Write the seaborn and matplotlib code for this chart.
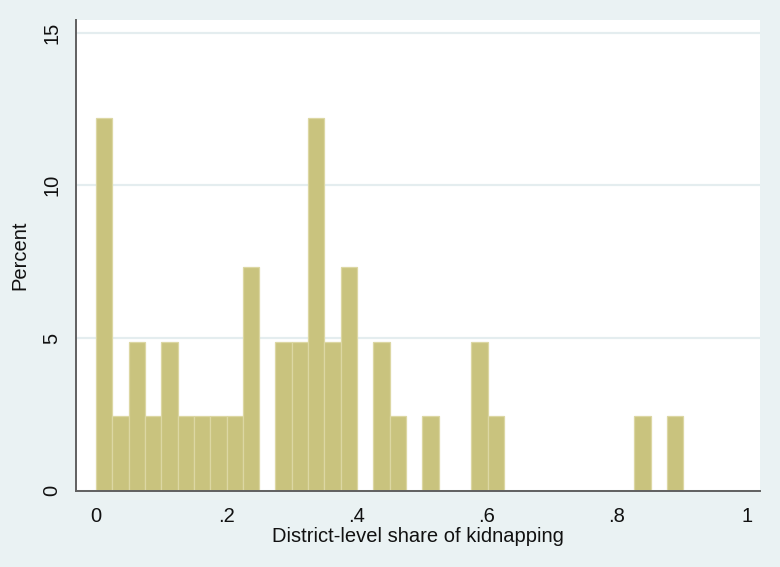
import numpy as np
import pandas as pd
import matplotlib
matplotlib.use("Agg")
import matplotlib.pyplot as plt
import seaborn as sns

# Histogram of district-level share of kidnapping (41 districts)
bin_edges = np.linspace(0, 0.9022, 37)
percent = [12.2, 2.44, 4.88, 2.44, 4.88, 2.44, 2.44, 2.44, 2.44, 7.32,
           0, 4.88, 4.88, 12.2, 4.88, 7.32, 0, 4.88, 2.44, 0,
           2.44, 0, 0, 4.88, 2.44, 0, 0, 0, 0, 0,
           0, 0, 0, 2.44, 0, 2.44]
x_ticks = [0, 0.2, 0.4, 0.6, 0.8, 1.0]
x_labels = ["0", ".2", ".4", ".6", ".8", "1"]
y_ticks = [0, 5, 10, 15]
y_labels = ["0", "5", "10", "15"]

bg = "#EAF2F3"
sns.set_style("white")
plt.rcParams["font.family"] = ["Liberation Sans", "DejaVu Sans"]

fig = plt.figure(figsize=(7.8, 5.67), dpi=100, facecolor=bg)
ax = fig.add_axes([75.7 / 780, 1 - 490.7 / 567, (760 - 75.7) / 780, (490.7 - 20) / 567])
ax.set_facecolor("white")

df = pd.DataFrame({"share": (bin_edges[:-1] + bin_edges[1:]) / 2, "pct": percent})
sns.histplot(data=df, x="share", weights="pct", bins=list(bin_edges), ax=ax,
             color="#C9C37E", edgecolor="#DCD7A3", linewidth=0.9, alpha=1)

ax.set_xlim(-0.0312, 1.020)
ax.set_ylim(0, 15.41)
ax.set_xticks(x_ticks, x_labels)
ax.set_yticks(y_ticks, y_labels)
ax.grid(axis="y", color="#E4EDEF", linewidth=1.6)
ax.set_axisbelow(True)

for s in ["top", "right"]:
    ax.spines[s].set_visible(False)
for s in ["left", "bottom"]:
    ax.spines[s].set_color("#606060")
    ax.spines[s].set_linewidth(1.4)

fs = 14.5
ax.tick_params(axis="both", direction="out", length=6, width=1, color="#404040",
               labelsize=fs, labelcolor="#111111")
ax.tick_params(axis="x", pad=6)
ax.tick_params(axis="y", labelrotation=90, pad=4.5)
for lab in ax.get_yticklabels():
    lab.set_va("center")

ax.set_xlabel("District-level share of kidnapping", fontsize=fs, color="#111111", labelpad=0.8)
ax.set_ylabel("Percent", fontsize=fs, color="#111111", labelpad=9.5)

fig.savefig("out.png", dpi=100, facecolor=bg)
